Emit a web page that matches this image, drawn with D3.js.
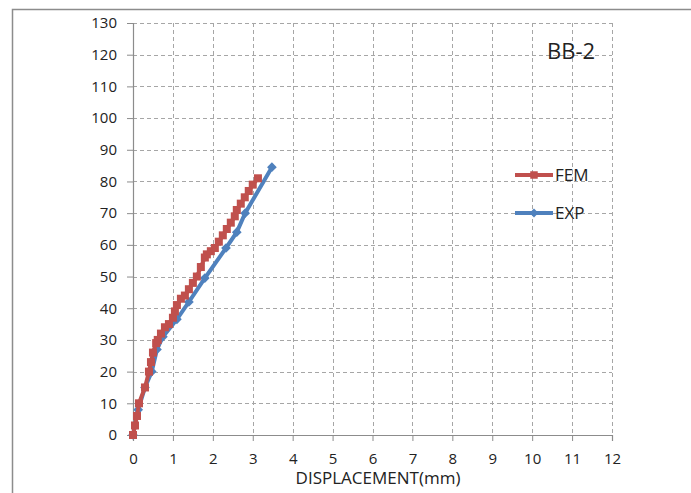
<!DOCTYPE html>
<html>
<head>
<meta charset="utf-8">
<script src="https://cdn.jsdelivr.net/npm/d3@7"></script>
<style>
  body { margin: 0; background: #fff; }
  svg text { font-family: "Open Sans", "Noto Sans", sans-serif; fill: #222; }
</style>
</head>
<body>
<div id="chart"></div>
<script>
// 読み取った値 (x: 変位 mm, y: 荷重)
const femX = [0, 0.05, 0.1, 0.15, 0.3, 0.4, 0.45, 0.5, 0.58, 0.62, 0.7, 0.8, 0.9, 1.0, 1.05, 1.1, 1.2, 1.3, 1.4, 1.5, 1.6, 1.7, 1.8, 1.85, 1.95, 2.05, 2.15, 2.25, 2.35, 2.45, 2.55, 2.6, 2.7, 2.8, 2.9, 3.0, 3.13];
const femY = [0, 3, 6, 10, 15, 20, 23, 26, 29, 30, 32, 34, 35, 37, 39, 41, 43, 44, 46, 48, 50, 53, 56, 57, 58, 59, 61, 63, 65, 67, 69, 71, 73, 75, 77, 79, 81];
const expX = [0, 0.13, 0.3, 0.47, 0.6, 0.75, 1.1, 1.4, 1.8, 2.33, 2.6, 2.81, 3.48];
const expY = [0, 8, 15, 20, 27, 31, 36.5, 42, 49.5, 59, 64, 70, 84.5];
const xTicks = [0, 1, 2, 3, 4, 5, 6, 7, 8, 9, 10, 11, 12];
const yTicks = [0, 10, 20, 30, 40, 50, 60, 70, 80, 90, 100, 110, 120, 130];
const seriesNames = ["FEM", "EXP"];
const colors = ["#C0504D", "#4F81BD"];
const chartTitle = "BB-2";
const xTitle = "DISPLACEMENT(mm)";

const W = 691, H = 493;
const margin = { top: 23, left: 133, right: 79, bottom: 58 };
const width = W - margin.left - margin.right;
const height = H - margin.top - margin.bottom;

const svg = d3.select("#chart").append("svg")
  .attr("width", W).attr("height", H);

// 外枠
svg.append("path")
  .attr("d", `M12.5,${H} L12.5,9.5 L${W},9.5`)
  .attr("fill", "none").attr("stroke", "#8c8c8c").attr("stroke-width", 1.5);

const g = svg.append("g").attr("transform", `translate(${margin.left},${margin.top})`);

const x = d3.scaleLinear().domain([0, 12]).range([0, width]);
const y = d3.scaleLinear().domain([0, 130]).range([height, 0]);

// グリッド
g.append("g").selectAll("line").data(yTicks.filter(d => d > 0)).enter().append("line")
  .attr("x1", 0).attr("x2", width)
  .attr("y1", d => Math.round(y(d)) + 0.5).attr("y2", d => Math.round(y(d)) + 0.5)
  .attr("stroke", "#a6a6a6").attr("stroke-dasharray", "4,3");
g.append("g").selectAll("line").data(xTicks.filter(d => d > 0)).enter().append("line")
  .attr("y1", 0).attr("y2", height)
  .attr("x1", d => Math.round(x(d)) + 0.5).attr("x2", d => Math.round(x(d)) + 0.5)
  .attr("stroke", "#a6a6a6").attr("stroke-dasharray", "4,3");

// 軸
const yAxis = g.append("g")
  .call(d3.axisLeft(y).tickValues(yTicks).tickSize(6).tickPadding(10));
const xAxis = g.append("g").attr("transform", `translate(0,${height})`)
  .call(d3.axisBottom(x).tickValues(xTicks).tickSize(6).tickPadding(12));
[xAxis, yAxis].forEach(a => {
  a.select(".domain").attr("stroke", "#8c8c8c").attr("stroke-width", 1.2);
  a.selectAll(".tick line").attr("stroke", "#8c8c8c");
  a.selectAll("text").style("font-size", "15px").attr("fill", "#222");
});

// 系列
const line = d3.line().x(d => x(d[0])).y(d => y(d[1]));
const femData = femX.map((v, i) => [v, femY[i]]);
const expData = expX.map((v, i) => [v, expY[i]]);

g.append("path").datum(expData).attr("d", line)
  .attr("fill", "none").attr("stroke", colors[1]).attr("stroke-width", 4);
g.selectAll(".expPt").data(expData).enter().append("path")
  .attr("class", "expPt")
  .attr("d", d3.symbol().type(d3.symbolDiamond2).size(60))
  .attr("transform", d => `translate(${x(d[0])},${y(d[1])})`)
  .attr("fill", colors[1]);

g.append("path").datum(femData).attr("d", line)
  .attr("fill", "none").attr("stroke", colors[0]).attr("stroke-width", 4);
g.selectAll(".femPt").data(femData).enter().append("rect")
  .attr("class", "femPt")
  .attr("x", d => x(d[0]) - 4).attr("y", d => y(d[1]) - 4)
  .attr("width", 8).attr("height", 8)
  .attr("fill", colors[0]);

// 凡例
const legend = svg.selectAll(".legend").data(seriesNames).enter().append("g")
  .attr("class", "legend")
  .attr("transform", (d, i) => `translate(515,${175 + i * 38})`);
legend.append("line").attr("x1", 0).attr("x2", 38)
  .attr("stroke", (d, i) => colors[i]).attr("stroke-width", 4);
legend.append("path")
  .attr("d", (d, i) => d3.symbol().type(i === 0 ? d3.symbolSquare : d3.symbolDiamond2).size(i === 0 ? 56 : 50)())
  .attr("transform", "translate(19,0)")
  .attr("fill", (d, i) => colors[i]);
legend.append("text").attr("x", 40).attr("dy", "0.35em")
  .style("font-size", "17px").text(d => d);

// タイトル
svg.append("text").attr("x", 571).attr("y", 59)
  .attr("text-anchor", "middle").style("font-size", "22px").text(chartTitle);
svg.append("text").attr("x", 378).attr("y", 484)
  .attr("text-anchor", "middle").style("font-size", "17px").text(xTitle);
</script>
</body>
</html>
